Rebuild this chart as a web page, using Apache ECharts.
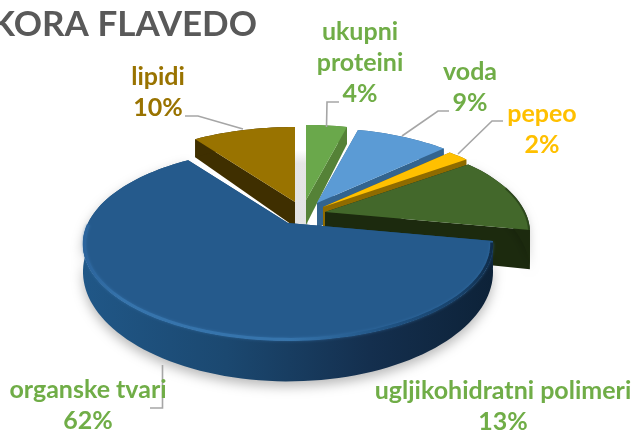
<!DOCTYPE html>
<html>
<head>
<meta charset="utf-8">
<script src="https://cdn.jsdelivr.net/npm/echarts@6/dist/echarts.min.js"></script>
<style>html,body{margin:0;padding:0;background:#fff}#c{width:638px;height:431px}</style>
</head>
<body>
<div id="c"></div>
<script>
// --- data ---
const titleText = 'KORA FLAVEDO';
const names = ['ukupni\nproteini', 'voda', 'pepeo', 'ugljikohidratni polimeri', 'organske tvari', 'lipidi'];
const values = [4, 9, 2, 13, 62, 10];

// --- styling and layout ---
const topColors  = ['#6AA84B', '#5B9BD5', '#FFC000', '#43682B', '#255A8C', '#997300'];
const wallColors = ['#558237', '#33648F', '#8F6B00', '#1C2A0E', '#1C4C78', '#3F2F00'];
const textColors = ['#70AD47', '#70AD47', '#FFC000', '#70AD47', '#70AD47', '#997300'];
const apexes = [[306,200],[317,203],[323,207],[325,212],[288,223],[295,202]];
const depthScale = [1, 1, 1, 1.45, 1, 1];
const paintOrder = [5,0,1,2,3,4];
const labelPos = [[360,63],[470,87],[542,129],[503,406],[88,405],[158,92]];
const leaders = [
  [[339,102],[327,102],[326.5,127]],
  [[449,111],[438,111],[402,136]],
  [[503,121],[492,121],[458,154]],
  [[162.5,365],[162.5,408],[150,408]],
  [[185,116],[198,116],[243,129]]
];
const RX = 200, RY = 91.5, K = 0.22, DEPTH = 25;

function project(apex, deg, r, scale) {
  const a = deg * Math.PI / 180, u = r * Math.sin(a), v = r * Math.cos(a), w = 1 + K * v;
  return [apex[0] + RX * u / w, apex[1] - RY * v / w, scale * DEPTH / (w * w)];
}
function arc(apex, from, to, r, scale) {
  const pts = [], n = Math.max(2, Math.ceil(Math.abs(to - from) / 2));
  for (let i = 0; i <= n; i++) pts.push(project(apex, from + (to - from) * i / n, r, scale));
  return pts;
}
const Lin = echarts.graphic.LinearGradient;
const total = values.reduce((a, b) => a + b, 0);
const starts = values.map((_, i) => values.slice(0, i).reduce((a, b) => a + b, 0) * 360 / total);

function renderSlice(params, api) {
  const i = params.dataIndex;
  const apex = apexes[i], from = starts[i], to = from + api.value(0) * 360 / total;
  const z = (paintOrder.indexOf(i) + 2) * 10;
  const outer = arc(apex, from, to, 1, depthScale[i]);
  const top = [[apex[0], apex[1]]].concat(outer.map(p => [p[0], p[1]]));
  const d0 = DEPTH * depthScale[i];
  const low = p => [p[0], p[1] + p[2]];
  const wallOuter = outer.map(p => [p[0], p[1]]).concat(outer.slice().reverse().map(low));
  const first = outer[0], last = outer[outer.length - 1];
  const mk = (pts, fill, zz) => ({
    type: 'polygon', shape: { points: pts }, style: { fill: fill }, z2: z + zz, silent: true
  });
  let wallFill = wallColors[i];
  const isBig = values[i] === Math.max.apply(null, values);
  if (isBig) {
    wallFill = new Lin(0, 0, 1, 0, [
      { offset: 0, color: '#205787' }, { offset: 0.35, color: '#1B4870' },
      { offset: 0.7, color: '#142F4E' }, { offset: 1, color: '#0D2238' }]);
  }
  const wallStyle = { fill: wallFill };
  if (isBig) { wallStyle.shadowBlur = 12; wallStyle.shadowColor = 'rgba(0,0,0,0.28)'; wallStyle.shadowOffsetY = 5; }
  if (values[i] === 13) { wallStyle.shadowBlur = 8; wallStyle.shadowColor = 'rgba(0,0,0,0.18)'; wallStyle.shadowOffsetY = 3; }
  const children = [
    mk([top[0], first, low(first), [apex[0], apex[1] + d0]], wallColors[i], 0),
    mk([top[0], last, low(last), [apex[0], apex[1] + d0]], wallColors[i], 1),
    { type: 'polygon', shape: { points: wallOuter }, style: wallStyle, z2: z + 2, silent: true },
    mk(top, topColors[i], 3)
  ];
  if (isBig) {
    const rim = arc(apex, from + 1, from + 168, 0.994, 1).map(p => [p[0], p[1]]);
    children.push({
      type: 'polyline', shape: { points: rim }, silent: true, z2: z + 4,
      style: { fill: null, lineWidth: 3, shadowBlur: 3, shadowColor: 'rgba(60,125,185,0.5)',
        stroke: new Lin(0, 0, 1, 0, [
          { offset: 0, color: '#2A629A' }, { offset: 0.1, color: '#3674AC' }, { offset: 0.5, color: '#3674AC' },
          { offset: 0.75, color: '#1F5282' }, { offset: 0.92, color: '#17416A' }, { offset: 1, color: '#0F2B48' }]) }
    });
  }
  if (values[i] === 13) {
    const rim = arc(apex, from + 20, to, 0.996, 1).map(p => [p[0], p[1]]);
    children.push({ type: 'polyline', shape: { points: rim }, silent: true, z2: z + 4,
      style: { fill: null, lineWidth: 2, stroke: 'rgba(30,50,18,0.55)' } });
  }
  return { type: 'group', children: children };
}

function renderFloor() {
  // pale floor visible through the gap beside the lipid slice
  return { type: 'rect', shape: { x: 294, y: 150, width: 14, height: 82 }, silent: true,
    style: { fill: new Lin(0, 0, 0, 1, [{ offset: 0, color: '#FFFFFF' }, { offset: 0.16, color: '#E6E6E6' }, { offset: 1, color: '#E2E2E2' }]) } };
}

function renderLabels() {
  const children = [];
  leaders.forEach(l => children.push({
    type: 'polyline', shape: { points: l }, z2: 200, silent: true,
    style: { fill: null, stroke: '#A6A6A6', lineWidth: 1.6 }
  }));
  names.forEach((n, i) => children.push({
    type: 'text', z2: 210, silent: true,
    style: { x: labelPos[i][0], y: labelPos[i][1], text: n + '\n' + values[i] + '%',
      fill: textColors[i], font: 'bold 25px Lato', lineHeight: 31, align: 'center', verticalAlign: 'middle' }
  }));
  return { type: 'group', children: children };
}

const chart = echarts.init(document.getElementById('c'), null, { renderer: 'canvas' });
chart.setOption({
  animation: false,
  backgroundColor: '#fff',
  title: { text: titleText, right: 376, top: 2,
    textStyle: { color: '#595959', fontFamily: 'Lato', fontWeight: 'bold', fontSize: 35 } },
  series: [
    { type: 'custom', coordinateSystem: 'none', renderItem: renderFloor, data: [[0]], silent: true, z: 1 },
    { type: 'custom', coordinateSystem: 'none', renderItem: renderSlice, data: values.map(v => [v]), silent: true, z: 2 },
    { type: 'custom', coordinateSystem: 'none', renderItem: renderLabels, data: [[0]], silent: true, z: 3 }
  ]
});
</script>
</body>
</html>
